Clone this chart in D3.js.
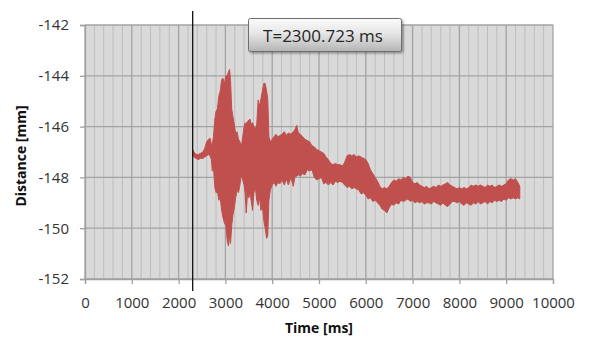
<!DOCTYPE html>
<html>
<head>
<meta charset="utf-8">
<script src="https://cdn.jsdelivr.net/npm/d3@7"></script>
<style>
  body { margin: 0; background: #fff; }
  svg { display: block; font-family: "Open Sans", sans-serif; }
</style>
</head>
<body>
<div id="chart"></div>
<script>
// envelope (upper / lower edge) of the distance signal
const time = [
  2300, 2330, 2370, 2420, 2470, 2520, 2560, 2600, 2640, 2670,
  2700, 2720, 2745, 2775, 2800, 2830, 2860, 2890, 2920, 2950,
  2980, 3010, 3040, 3065, 3090, 3110, 3135, 3160, 3190, 3220,
  3250, 3280, 3310, 3340, 3370, 3400, 3420, 3445, 3470, 3500,
  3525, 3550, 3580, 3610, 3640, 3670, 3700, 3730, 3760, 3790,
  3820, 3850, 3880, 3905, 3930, 3960, 4000, 4040, 4080, 4120,
  4165, 4210, 4260, 4300, 4345, 4400, 4450, 4490, 4523, 4560,
  4600, 4650, 4700, 4750, 4800, 4850, 4900, 4950, 5000, 5050,
  5100, 5150, 5200, 5250, 5300, 5350, 5400, 5450, 5500, 5550,
  5600, 5650, 5700, 5750, 5800, 5850, 5900, 5950, 6000, 6050,
  6100, 6150, 6200, 6250, 6300, 6350, 6400, 6450, 6500, 6550,
  6600, 6650, 6700, 6750, 6800, 6850, 6900, 6950, 7000, 7050,
  7100, 7150, 7200, 7250, 7300, 7350, 7400, 7450, 7500, 7550,
  7600, 7650, 7700, 7750, 7800, 7850, 7900, 7950, 8000, 8050,
  8100, 8150, 8200, 8250, 8300, 8350, 8400, 8450, 8500, 8550,
  8600, 8650, 8700, 8750, 8800, 8850, 8900, 8950, 9000, 9050,
  9100, 9150, 9200, 9250, 9290
];
const upper = [
  -146.9, -147.0, -147.1, -147.1, -147.05, -147.0, -146.85, -146.6, -146.5, -146.45,
  -146.7, -146.7, -146.4, -145.7, -145.4, -145.3, -144.8, -144.6, -144.15, -144.1,
  -144.3, -144.0, -144.0, -143.85, -143.75, -144.2, -145.3, -145.6, -145.9, -146.3,
  -146.2, -146.5, -146.6, -146.8, -146.4, -146.0, -145.85, -145.9, -145.8, -145.75,
  -145.7, -145.9, -145.85, -146.0, -146.1, -145.9, -144.95, -145.2, -144.9, -144.6,
  -144.3, -144.3, -144.6, -144.9, -146.4, -146.6, -146.5, -146.4, -146.3, -146.4,
  -146.35, -146.3, -146.2, -146.35, -146.25, -146.3, -146.2, -146.1, -145.95, -146.25,
  -146.3, -146.4, -146.5, -146.55, -146.6, -146.75, -146.8, -146.9, -146.95, -147.0,
  -147.05, -147.2, -147.3, -147.45, -147.5, -147.45, -147.5, -147.5, -147.55, -147.4,
  -147.15, -147.1, -147.15, -147.1, -147.2, -147.15, -147.2, -147.25, -147.3, -147.45,
  -147.7, -147.85, -148.0, -148.15, -148.35, -148.45, -148.4, -148.45, -148.35, -148.2,
  -148.1, -148.15, -148.05, -148.1, -148.0, -148.05, -147.95, -148.0, -148.2, -148.25,
  -148.2, -148.3, -148.35, -148.4, -148.35, -148.45, -148.4, -148.35, -148.4, -148.3,
  -148.35, -148.3, -148.25, -148.2, -148.3, -148.35, -148.4, -148.45, -148.4, -148.45,
  -148.4, -148.45, -148.4, -148.3, -148.35, -148.3, -148.35, -148.3, -148.35, -148.4,
  -148.3, -148.35, -148.3, -148.4, -148.35, -148.3, -148.35, -148.3, -148.25, -148.1,
  -148.05, -148.1, -148.05, -148.2, -148.35
];
const lower = [
  -147.1, -147.2, -147.25, -147.3, -147.25, -147.25, -147.2, -147.15, -147.1, -147.15,
  -147.3, -147.75, -147.6, -148.4, -148.6, -148.55, -148.9, -148.8, -149.3, -149.6,
  -149.8, -149.9, -150.5, -150.7, -150.3, -150.6, -149.9, -149.5, -149.2, -148.8,
  -148.5, -148.6, -148.3, -147.9, -148.1, -148.3, -148.6, -149.4, -148.7, -148.8,
  -148.6, -148.9, -149.3, -148.6, -148.4, -148.9, -149.1, -148.8, -149.3, -149.1,
  -149.7, -150.0, -150.4, -150.3, -148.9, -148.5, -148.3, -148.2, -148.35, -148.2,
  -148.25, -148.1, -148.3, -148.05, -148.3, -148.0, -148.35, -147.95, -147.95, -147.9,
  -147.95, -147.85, -147.9, -147.7, -147.75, -147.7, -148.0, -148.1, -148.05, -148.0,
  -148.25, -148.2, -148.3, -148.2, -148.3, -148.15, -148.2, -148.15, -148.2, -148.3,
  -148.4, -148.35, -148.45, -148.4, -148.45, -148.5, -148.65, -148.6, -148.7, -148.85,
  -148.8, -148.95, -148.9, -149.0, -149.1, -149.25, -149.3, -149.4, -149.2, -149.05,
  -149.1, -149.0, -149.05, -148.9, -148.95, -148.9, -148.85, -148.95, -148.9, -149.0,
  -148.95, -149.0, -148.95, -149.05, -149.0, -149.0, -149.05, -148.95, -149.0, -149.05,
  -149.1, -149.0, -149.1, -149.15, -149.05, -148.95, -148.95, -149.0, -148.95, -149.05,
  -149.1, -149.0, -149.05, -149.1, -149.0, -149.05, -148.95, -149.05, -149.0, -148.95,
  -149.05, -148.95, -149.0, -148.9, -148.95, -148.9, -148.95, -148.85, -148.9, -148.8,
  -148.85, -148.8, -148.85, -148.8, -148.85
];

const xTicks = [0, 1000, 2000, 3000, 4000, 5000, 6000, 7000, 8000, 9000, 10000];
const yTicks = [-152, -150, -148, -146, -144, -142];
const cursorTime = 2300.723;
const cursorLabel = "T=2300.723 ms";

const margin = {top: 25, right: 36, bottom: 59, left: 85};
const width = 589 - margin.left - margin.right;
const height = 338 - margin.top - margin.bottom;

const svg = d3.select("#chart").append("svg")
    .attr("width", 589)
    .attr("height", 338);

const defs = svg.append("defs");
const grad = defs.append("linearGradient")
    .attr("id", "boxGrad")
    .attr("x1", 0).attr("y1", 0).attr("x2", 0).attr("y2", 1);
grad.append("stop").attr("offset", "0%").attr("stop-color", "#fbfbfb");
grad.append("stop").attr("offset", "45%").attr("stop-color", "#e6e6e6");
grad.append("stop").attr("offset", "100%").attr("stop-color", "#b4b4b4");
const shadow = defs.append("filter").attr("id", "shadow")
    .attr("x", "-10%").attr("y", "-20%").attr("width", "130%").attr("height", "160%");
shadow.append("feDropShadow")
    .attr("dx", 1.5).attr("dy", 1.5).attr("stdDeviation", 1.2)
    .attr("flood-color", "#000").attr("flood-opacity", 0.35);

const g = svg.append("g")
    .attr("transform", "translate(" + margin.left + "," + margin.top + ")");

const x = d3.scaleLinear().domain([0, 10000]).range([0, width]);
const y = d3.scaleLinear().domain([-152, -142]).range([height, 0]);

// plot background
g.append("rect")
    .attr("width", width)
    .attr("height", height)
    .attr("fill", "#d9d9d9");

// minor vertical grid (every 200 ms)
g.append("g").selectAll("line")
    .data(x.ticks(50).filter(function(d) { return d % 1000 !== 0; }))
  .enter().append("line")
    .attr("x1", function(d) { return x(d); })
    .attr("x2", function(d) { return x(d); })
    .attr("y1", 0).attr("y2", height)
    .attr("stroke", "#bdbdbd")
    .attr("stroke-width", 1);

// major grid
g.append("g").selectAll("line")
    .data(xTicks)
  .enter().append("line")
    .attr("x1", function(d) { return x(d); })
    .attr("x2", function(d) { return x(d); })
    .attr("y1", 0).attr("y2", height)
    .attr("stroke", "#a3a3a3")
    .attr("stroke-width", 1.3);
g.append("g").selectAll("line")
    .data(yTicks)
  .enter().append("line")
    .attr("x1", 0).attr("x2", width)
    .attr("y1", function(d) { return y(d); })
    .attr("y2", function(d) { return y(d); })
    .attr("stroke", "#a3a3a3")
    .attr("stroke-width", 1.3);

// signal
const data = time.map(function(t, i) { return {t: t, hi: upper[i], lo: lower[i]}; });
const area = d3.area()
    .x(function(d) { return x(d.t); })
    .y0(function(d) { return y(d.lo); })
    .y1(function(d) { return y(d.hi); });
g.append("path")
    .datum(data)
    .attr("d", area)
    .attr("fill", "#c0504d")
    .attr("stroke", "#c0504d")
    .attr("stroke-width", 1)
    .attr("stroke-linejoin", "round");

// axes
const xAxis = g.append("g")
    .attr("transform", "translate(0," + height + ")")
    .call(d3.axisBottom(x).tickValues(xTicks).tickFormat(d3.format("d")).tickSize(5).tickPadding(13));
const yAxis = g.append("g")
    .call(d3.axisLeft(y).tickValues(yTicks).tickFormat(d3.format("d")).tickSize(5).tickPadding(11));
[xAxis, yAxis].forEach(function(a) {
  a.select(".domain").attr("stroke", "#a0a0a0").attr("stroke-width", 1.3);
  a.selectAll(".tick line").attr("stroke", "#a0a0a0").attr("stroke-width", 1.3);
  a.selectAll(".tick text")
      .attr("fill", "#333")
      .style("font-size", "15px")
      .style("font-family", "'Open Sans', sans-serif");
});
// d3 uses a real minus sign; the chart shows a hyphen
yAxis.selectAll(".tick text").text(function(d) { return String(d); });

// axis titles
svg.append("text")
    .attr("x", margin.left + width / 2)
    .attr("y", 333)
    .attr("text-anchor", "middle")
    .style("font-size", "14px")
    .style("font-weight", "bold")
    .attr("fill", "#111")
    .text("Time [ms]");
svg.append("text")
    .attr("transform", "translate(26," + (margin.top + height / 2 + 4) + ") rotate(-90)")
    .attr("text-anchor", "middle")
    .style("font-size", "14px")
    .style("font-weight", "bold")
    .attr("fill", "#111")
    .text("Distance [mm]");

// cursor line
const cx = margin.left + x(cursorTime);
svg.append("line")
    .attr("x1", cx).attr("x2", cx)
    .attr("y1", 11).attr("y2", 291)
    .attr("stroke", "#111")
    .attr("stroke-width", 1.3);

// cursor label box
svg.append("rect")
    .attr("x", 248.5).attr("y", 18.5)
    .attr("width", 153).attr("height", 33)
    .attr("rx", 2)
    .attr("fill", "url(#boxGrad)")
    .attr("stroke", "#6e6e6e")
    .attr("stroke-width", 1)
    .attr("filter", "url(#shadow)");
svg.append("text")
    .attr("x", 323)
    .attr("y", 42)
    .attr("text-anchor", "middle")
    .style("font-size", "17px")
    .attr("fill", "#262626")
    .text(cursorLabel);
</script>
</body>
</html>
